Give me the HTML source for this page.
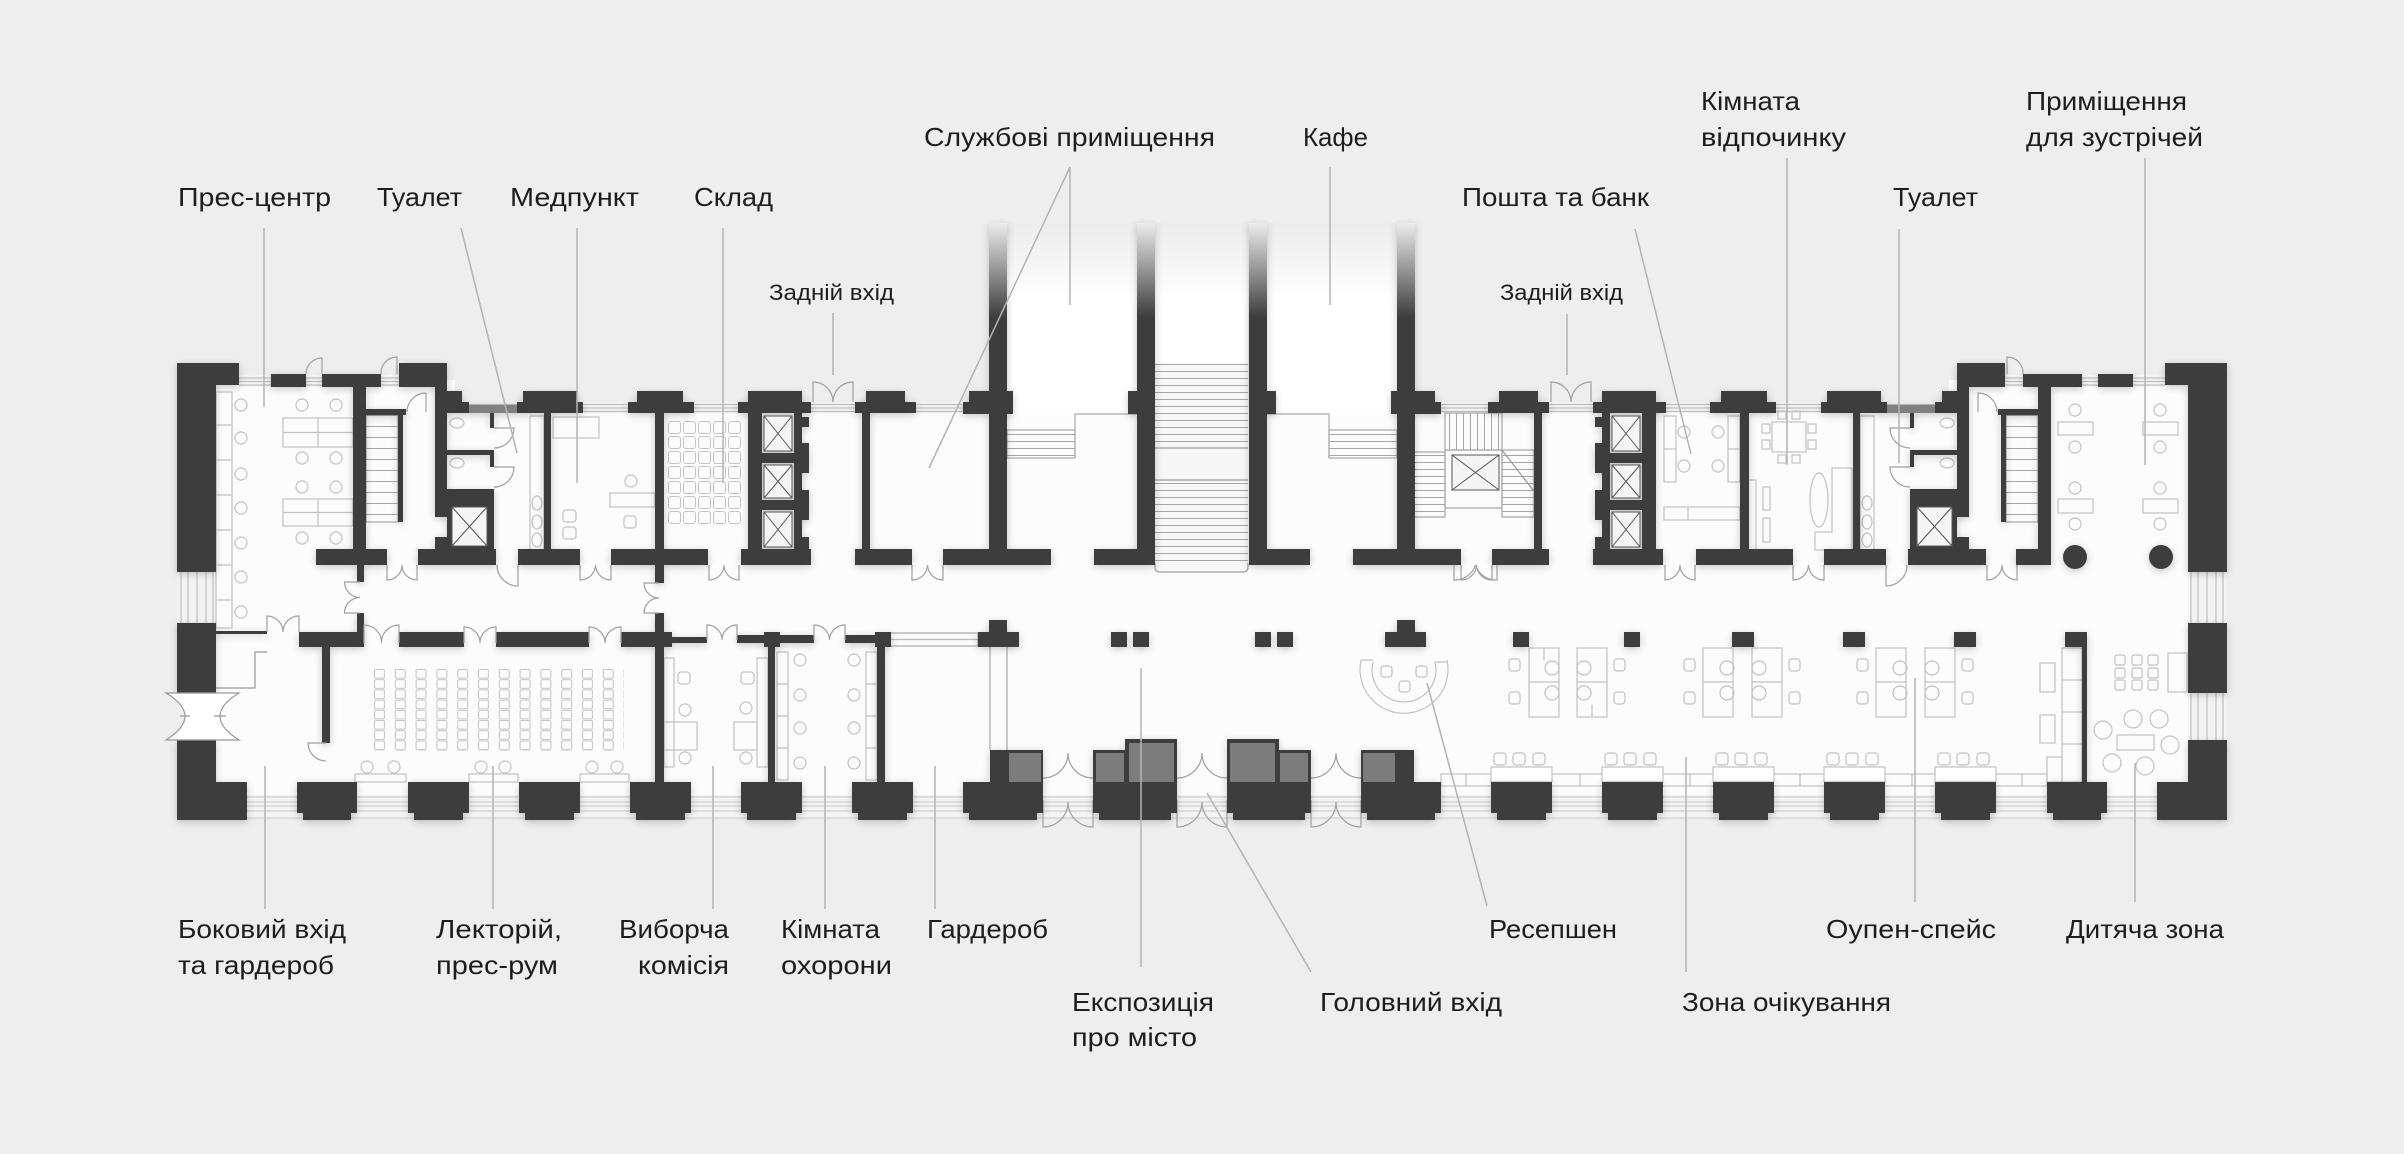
<!DOCTYPE html>
<html><head><meta charset="utf-8">
<style>
html,body{margin:0;padding:0;background:#eeeeee;width:2404px;height:1154px;overflow:hidden;}
svg{display:block;}
text{font-family:"Liberation Sans","DejaVu Sans",sans-serif;fill:#1d1d1d;}
</style></head><body>
<svg xmlns="http://www.w3.org/2000/svg" width="2404" height="1154" viewBox="0 0 2404 1154">
<defs>
<linearGradient id="gw" gradientUnits="userSpaceOnUse" x1="0" y1="223" x2="0" y2="318"><stop offset="0" stop-color="#ececec"/><stop offset="1" stop-color="#3c3c3c"/></linearGradient>
<linearGradient id="gf" gradientUnits="userSpaceOnUse" x1="0" y1="223" x2="0" y2="300"><stop offset="0" stop-color="#ececec"/><stop offset="1" stop-color="#ffffff"/></linearGradient>
<pattern id="trH" x="0" y="0" width="10" height="7" patternUnits="userSpaceOnUse"><line x1="0" y1="0.5" x2="10" y2="0.5" stroke="#a6a6a6" stroke-width="1"/></pattern>
<pattern id="trH11" x="0" y="415" width="10" height="11" patternUnits="userSpaceOnUse"><line x1="0" y1="0.5" x2="10" y2="0.5" stroke="#a6a6a6" stroke-width="1"/></pattern>
<pattern id="trV" x="0" y="0" width="7" height="10" patternUnits="userSpaceOnUse"><line x1="0.5" y1="0" x2="0.5" y2="10" stroke="#a6a6a6" stroke-width="1"/></pattern>
<pattern id="seats" x="374" y="669" width="20.8" height="10.2" patternUnits="userSpaceOnUse"><rect x="0.5" y="0.5" width="10" height="8.6" rx="1.5" fill="none" stroke="#c4c4c4" stroke-width="1"/></pattern>
<pattern id="grid" x="668" y="421" width="15" height="15" patternUnits="userSpaceOnUse"><rect x="0.5" y="0.5" width="12" height="12" rx="2.5" fill="none" stroke="#c4c4c4" stroke-width="1"/></pattern>
<filter id="sh" x="-5%" y="-5%" width="110%" height="110%">
<feGaussianBlur in="SourceAlpha" stdDeviation="4"/><feOffset dx="0" dy="2"/>
<feComponentTransfer><feFuncA type="linear" slope="0.22"/></feComponentTransfer>
<feMerge><feMergeNode/><feMergeNode in="SourceGraphic"/></feMerge></filter>

<!-- symmetric light elements (left half) -->
<g id="symL" fill="none" stroke="#c2c2c2" stroke-width="1.2">
<rect x="447" y="402" width="542" height="11" fill="#f3f3f3" stroke="none"/>
<path d="M447,404.5 H989 M447,408 H989 M447,411.5 H989" stroke="#c0c0c0"/>
<rect x="239" y="375" width="160" height="12" fill="#f3f3f3" stroke="none"/>
<path d="M239,378 H399 M239,381.5 H399 M239,385 H399" stroke="#c0c0c0"/>
<rect x="177" y="572" width="39" height="51" fill="#f3f3f3" stroke="none"/>
<path d="M181,572 V623 M188,572 V623 M197,572 V623 M206,572 V623 M213,572 V623" stroke="#c0c0c0"/>
<rect x="366" y="415" width="32" height="107" fill="url(#trH11)" stroke="#a6a6a6"/>
<rect x="530" y="416" width="14" height="134"/>
<ellipse cx="537" cy="503" rx="5" ry="7"/><ellipse cx="537" cy="522" rx="5" ry="7"/><ellipse cx="537" cy="540" rx="5" ry="7"/>
<ellipse cx="457" cy="423" rx="7" ry="5"/><ellipse cx="457" cy="463" rx="7" ry="5"/>
<rect x="1007" y="430" width="68" height="28" fill="url(#trH)" stroke="#aaaaaa"/>
<path d="M1075,458 V414 H1137" stroke="#aaaaaa"/>
<g stroke="#a0a0a0">
<path d="M813,402 V382 A20,20 0 0 1 833,402 M853,402 V382 A20,20 0 0 0 833,402"/>
<path d="M1043,778 A25,25 0 0 0 1068,753 A25,25 0 0 0 1093,778"/>
<path d="M1043,800 V827 A25,25 0 0 0 1068,802 A25,25 0 0 0 1093,827 V800"/>
<path d="M494,428 H514 A20,20 0 0 1 494,448 M494,467 H514 A20,20 0 0 1 494,487"/>
<path d="M397,374 V357 A16,16 0 0 0 381,374"/>
<path d="M426,412 V393 A19,19 0 0 0 407,412"/>
<path d="M387,565 V580 A15,15 0 0 0 402,565 M417,565 V580 A15,15 0 0 1 402,565"/>
<path d="M580,565 V580 A15.5,15.5 0 0 0 595.5,565 M611,565 V580 A15.5,15.5 0 0 1 595.5,565"/>
<path d="M709,565 V580 A15,15 0 0 0 724,565 M739,565 V580 A15,15 0 0 1 724,565"/>
<path d="M912,565 V580 A15.5,15.5 0 0 0 927.5,565 M943,565 V580 A15.5,15.5 0 0 1 927.5,565"/>
<path d="M518,565 V586 A21,21 0 0 1 497,565"/>
</g>
</g>

<!-- symmetric walls (left half) -->
<g id="symW" fill="#3c3c3c">
<rect x="177" y="363" width="62" height="22"/>
<rect x="177" y="363" width="39" height="209"/>
<rect x="271" y="374" width="35" height="13"/>
<rect x="322" y="374" width="59" height="13"/>
<rect x="399" y="363" width="48" height="24"/>
<rect x="435" y="363" width="12" height="154"/>
<rect x="435" y="537" width="12" height="16"/>
<rect x="353" y="374" width="13" height="191"/>
<rect x="366" y="409" width="40" height="6"/>
<rect x="398" y="409" width="5" height="113"/>
<rect x="447" y="391" width="15" height="22"/>
<rect x="462" y="402" width="7" height="11"/>
<rect x="469" y="405" width="48" height="8" fill="#808080"/>
<rect x="523" y="391" width="54" height="11"/>
<rect x="517" y="402" width="66" height="11"/>
<rect x="544" y="413" width="7" height="140"/>
<rect x="637" y="391" width="46" height="11"/>
<rect x="628" y="402" width="66" height="11"/>
<rect x="655" y="413" width="9" height="152"/>
<!-- toilets -->
<rect x="447" y="450" width="47" height="5"/>
<rect x="447" y="489" width="47" height="60"/>
<rect x="490" y="413" width="4" height="15"/>
<rect x="490" y="450" width="4" height="17"/>
<rect x="452" y="507" width="35" height="39" fill="#f5f5f5" stroke="#555" stroke-width="1"/>
<path d="M452,507 L487,546 M487,507 L452,546" stroke="#555" stroke-width="1"/>
<!-- elevator block -->
<rect x="748" y="391" width="54" height="11"/>
<rect x="738" y="402" width="73" height="11"/>
<rect x="748" y="413" width="14" height="140"/>
<rect x="741" y="549" width="70" height="16"/>
<rect x="762" y="453" width="40" height="10"/>
<rect x="762" y="500" width="40" height="10"/>
<rect x="794" y="413" width="8" height="136"/>
<rect x="802" y="417" width="7" height="10"/>
<rect x="802" y="443" width="7" height="30"/>
<rect x="802" y="490" width="7" height="30"/>
<rect x="802" y="537" width="7" height="12"/>
<g fill="#f5f5f5" stroke="#555" stroke-width="1">
<rect x="764" y="416" width="28" height="35"/><rect x="764" y="465" width="28" height="33"/><rect x="764" y="512" width="28" height="35"/>
<path d="M764,416 L792,451 M792,416 L764,451 M764,465 L792,498 M792,465 L764,498 M764,512 L792,547 M792,512 L764,547" fill="none"/>
</g>
<!-- room piers -->
<rect x="866" y="391" width="39" height="11"/>
<rect x="855" y="402" width="61" height="11"/>
<rect x="862" y="413" width="8" height="136"/>
<rect x="855" y="549" width="57" height="16"/>
<rect x="943" y="549" width="108" height="16"/>
<rect x="969" y="391" width="44" height="23"/>
<rect x="963" y="402" width="6" height="12"/>
<rect x="1128" y="391" width="9" height="23"/>
<rect x="1094" y="549" width="61" height="16"/>
<rect x="989" y="223" width="18" height="326" fill="url(#gw)"/>
<rect x="1137" y="223" width="18" height="342" fill="url(#gw)"/>
<!-- upper band bottom -->
<rect x="418" y="549" width="78" height="16"/>
<rect x="518" y="549" width="62" height="16"/>
<rect x="611" y="549" width="97" height="16"/>
<!-- lower band pillars -->
<rect x="317" y="632" width="22" height="15"/>
<rect x="428" y="632" width="22" height="15"/>
<rect x="539" y="632" width="22" height="15"/>
<rect x="650" y="632" width="22" height="15"/>
<rect x="764" y="632" width="16" height="15"/>
<rect x="875" y="632" width="16" height="15"/>
<rect x="978" y="632" width="41" height="15"/>
<rect x="989" y="620" width="18" height="12"/>
<rect x="1111" y="632" width="16" height="15"/>
<rect x="1133" y="632" width="16" height="15"/>
<!-- outer wall pieces -->
<rect x="177" y="623" width="39" height="70"/>
<rect x="177" y="740" width="39" height="43"/>
<rect x="177" y="782" width="70" height="38"/>
<!-- bottom piers -->
<rect x="297" y="782" width="60" height="31"/><rect x="303" y="813" width="48" height="7"/>
<rect x="408" y="782" width="61" height="31"/><rect x="414" y="813" width="49" height="7"/>
<rect x="519" y="782" width="61" height="31"/><rect x="525" y="813" width="49" height="7"/>
<rect x="630" y="782" width="61" height="31"/><rect x="636" y="813" width="49" height="7"/>
<rect x="741" y="782" width="61" height="31"/><rect x="747" y="813" width="49" height="7"/>
<rect x="852" y="782" width="61" height="31"/><rect x="858" y="813" width="49" height="7"/>
<rect x="963" y="782" width="80" height="31"/><rect x="969" y="813" width="68" height="7"/>
<rect x="990" y="750" width="53" height="32"/>
<rect x="1009" y="753" width="32" height="29" fill="#7b7b7b"/>
<rect x="1093" y="782" width="84" height="31"/><rect x="1099" y="813" width="72" height="7"/>
<rect x="1093" y="750" width="34" height="32"/>
<rect x="1125" y="739" width="52" height="43"/>
<rect x="1096" y="753" width="28" height="29" fill="#7b7b7b"/>
<rect x="1129" y="743" width="45" height="39" fill="#7b7b7b"/>
</g>
</defs>

<!-- background -->
<rect x="0" y="0" width="2404" height="1154" fill="#eeeeee"/>

<!-- floor -->
<rect x="216" y="380" width="239" height="420" fill="#fcfcfc"/>
<rect x="1949" y="380" width="239" height="420" fill="#fcfcfc"/>
<rect x="447" y="408" width="1510" height="392" fill="#fcfcfc"/>
<rect x="1007" y="223" width="130" height="191" fill="url(#gf)"/>
<rect x="1155" y="223" width="93" height="142" fill="url(#gf)"/>
<rect x="1267" y="223" width="130" height="191" fill="url(#gf)"/>

<!-- bottom window strip -->
<rect x="216" y="795" width="1972" height="24" fill="#f4f4f4"/>
<path d="M216,797 H2188 M216,802 H2188 M216,806 H2188 M216,811 H2188 M216,818 H2188" stroke="#c6c6c6" stroke-width="1" fill="none"/>

<!-- symmetric light stuff -->
<use href="#symL"/>
<use href="#symL" transform="matrix(-1 0 0 1 2404 0)"/>

<!-- central stair -->
<rect x="1155" y="363" width="93" height="207" fill="#f7f7f7"/>
<rect x="1155" y="363" width="93" height="85" fill="url(#trH)"/>
<rect x="1155" y="480" width="93" height="84" fill="url(#trH)"/>
<path d="M1155,448 H1248 M1155,480 H1248 M1155,563 V567 Q1155,572 1160,572 H1243 Q1248,572 1248,567 V563" stroke="#9a9a9a" fill="none" stroke-width="1.2"/>
<path d="M1177,778 A25,25 0 0 0 1202,753 A25,25 0 0 0 1227,778 M1177,800 V827 A25,25 0 0 0 1202,802 A25,25 0 0 0 1227,827 V800" stroke="#a0a0a0" fill="none" stroke-width="1.2"/>

<!-- left-only light furniture -->
<g fill="none" stroke="#c2c2c2" stroke-width="1.2">
<rect x="216" y="392" width="16" height="236"/>
<path d="M216,425 H232 M216,460 H232 M216,495 H232 M216,530 H232 M216,565 H232 M216,600 H232"/>
<circle cx="241" cy="405" r="6"/><circle cx="241" cy="438" r="6"/><circle cx="241" cy="474" r="6"/><circle cx="241" cy="508" r="6"/><circle cx="241" cy="543" r="6"/><circle cx="241" cy="577" r="6"/><circle cx="241" cy="612" r="6"/>
<rect x="283" y="418" width="70" height="29"/><path d="M318,418 V447 M283,432.5 H353"/>
<rect x="283" y="499" width="70" height="27"/><path d="M318,499 V526 M283,512.5 H353"/>
<circle cx="302" cy="405" r="6"/><circle cx="336" cy="405" r="6"/><circle cx="302" cy="458" r="6"/><circle cx="336" cy="458" r="6"/>
<circle cx="302" cy="487" r="6"/><circle cx="336" cy="487" r="6"/><circle cx="302" cy="538" r="6"/><circle cx="336" cy="538" r="6"/>
<rect x="553" y="417" width="46" height="21"/><rect x="610" y="493" width="45" height="14"/>
<rect x="563" y="510" width="13" height="12" rx="3"/><rect x="563" y="527" width="13" height="12" rx="3"/>
<circle cx="631" cy="481" r="6"/><rect x="624" y="516" width="12" height="12" rx="3"/>
<rect x="668" y="421" width="73" height="105" fill="url(#grid)" stroke="none"/>
<rect x="374" y="669" width="250" height="82" fill="url(#seats)" stroke="none"/>
<circle cx="367" cy="767" r="6"/><circle cx="394" cy="767" r="6"/><circle cx="481" cy="767" r="6"/><circle cx="505" cy="767" r="6"/><circle cx="592" cy="767" r="6"/><circle cx="617" cy="767" r="6"/>
<rect x="355" y="774" width="51" height="8"/><rect x="469" y="774" width="49" height="8"/><rect x="580" y="774" width="49" height="8"/>
<rect x="757" y="658" width="11" height="109"/><rect x="734" y="722" width="23" height="28"/>
<circle cx="746" cy="708" r="6"/><circle cx="746" cy="758" r="6"/><rect x="741" y="672" width="13" height="12" rx="3"/>
<rect x="664" y="658" width="10" height="109"/><rect x="664" y="722" width="33" height="28"/>
<circle cx="685" cy="710" r="6"/><circle cx="685" cy="758" r="6"/><rect x="678" y="672" width="12" height="12" rx="3"/>
<rect x="777" y="652" width="11" height="128"/><path d="M777,684 H788 M777,716 H788 M777,748 H788"/>
<circle cx="800" cy="660" r="6"/><circle cx="800" cy="695" r="6"/><circle cx="800" cy="728" r="6"/><circle cx="800" cy="763" r="6"/>
<rect x="866" y="652" width="11" height="128"/><path d="M866,684 H877 M866,716 H877 M866,748 H877"/>
<circle cx="854" cy="660" r="6"/><circle cx="854" cy="695" r="6"/><circle cx="854" cy="728" r="6"/><circle cx="854" cy="763" r="6"/>
<rect x="889" y="633" width="89" height="13" fill="#fafafa" stroke="#aaaaaa"/><path d="M889,639.5 H978" stroke="#bbbbbb"/>
<path d="M990,647 V750 M1007,647 V750" stroke="#a8a8a8"/>
<path d="M216,688 H255 V652 H267" stroke="#999999"/>
</g>

<!-- right-only light furniture -->
<g fill="none" stroke="#c2c2c2" stroke-width="1.2">
<!-- right stair room -->
<rect x="1445" y="413" width="57" height="37" fill="url(#trV)" stroke="#a6a6a6"/>
<rect x="1414" y="452" width="31" height="65" fill="url(#trH)" stroke="#a6a6a6"/>
<rect x="1502" y="450" width="32" height="67" fill="url(#trH)" stroke="#a6a6a6"/>
<rect x="1445" y="450" width="57" height="58" stroke="#a6a6a6"/>
<path d="M1502,450 L1533,490" stroke="#999"/>
<rect x="1452" y="455" width="47" height="35" fill="#f5f5f5" stroke="#555" stroke-width="1"/>
<path d="M1452,455 L1499,490 M1499,455 L1452,490" stroke="#555" stroke-width="1"/>
<!-- post & bank -->
<rect x="1664" y="416" width="12" height="66"/><path d="M1664,449 H1676"/>
<circle cx="1684" cy="432" r="6"/><circle cx="1684" cy="466" r="6"/>
<rect x="1728" y="416" width="12" height="66"/><path d="M1728,449 H1740"/>
<circle cx="1718" cy="432" r="6"/><circle cx="1718" cy="466" r="6"/>
<rect x="1664" y="507" width="76" height="13"/><path d="M1688,507 V520"/>
<!-- rest room -->
<rect x="1772" y="422" width="34" height="30"/>
<rect x="1762" y="424" width="8" height="9"/><rect x="1762" y="440" width="8" height="9"/><rect x="1808" y="424" width="8" height="9"/><rect x="1808" y="440" width="8" height="9"/>
<rect x="1778" y="411" width="8" height="8"/><rect x="1792" y="411" width="8" height="8"/><rect x="1778" y="455" width="8" height="8"/><rect x="1792" y="455" width="8" height="8"/>
<ellipse cx="1819" cy="500" rx="9" ry="27"/>
<path d="M1832,468 H1852 V550 H1815 V532 H1832 Z"/>
<rect x="1747" y="480" width="9" height="70"/>
<rect x="1763" y="487" width="7" height="23"/><rect x="1763" y="518" width="7" height="24"/>
<!-- meeting room -->
<rect x="2058" y="422" width="35" height="13"/><rect x="2143" y="422" width="35" height="13"/>
<rect x="2058" y="499" width="35" height="14"/><rect x="2143" y="499" width="35" height="14"/>
<circle cx="2075" cy="410" r="6"/><circle cx="2075" cy="447" r="6"/><circle cx="2075" cy="488" r="6"/><circle cx="2075" cy="524" r="6"/>
<circle cx="2160" cy="410" r="6"/><circle cx="2160" cy="447" r="6"/><circle cx="2160" cy="488" r="6"/><circle cx="2160" cy="524" r="6"/>
<!-- right side window -->
<rect x="2188" y="690" width="39" height="52" fill="#f3f3f3" stroke="none"/>
<path d="M2191,690 V742 M2198,690 V742 M2207,690 V742 M2216,690 V742 M2223,690 V742" stroke="#c0c0c0"/>
<!-- reception -->
<path d="M1361,660 A44,44 0 1 0 1447,660 M1373,662 A32,32 0 1 0 1435,662 M1361,660 H1373 M1435,662 H1447"/>
<rect x="1381" y="666" width="11" height="11" rx="3"/><rect x="1416" y="666" width="11" height="11" rx="3"/><rect x="1399" y="681" width="11" height="11" rx="3"/>
<!-- open space clusters -->
<rect x="1529" y="648" width="30" height="69"/><rect x="1577" y="648" width="30" height="69"/>
<path d="M1529,682 H1559 M1577,682 H1607 M1544,648 V660 M1592,705 V717"/>
<circle cx="1552" cy="668" r="7"/><circle cx="1552" cy="693" r="7"/><circle cx="1584" cy="668" r="7"/><circle cx="1584" cy="693" r="7"/>
<rect x="1509" y="659" width="11" height="12" rx="3"/><rect x="1509" y="692" width="11" height="12" rx="3"/><rect x="1614" y="659" width="11" height="12" rx="3"/><rect x="1614" y="692" width="11" height="12" rx="3"/>
<rect x="1703" y="648" width="30" height="69"/><rect x="1752" y="648" width="30" height="69"/>
<path d="M1703,682 H1733 M1752,682 H1782"/>
<circle cx="1727" cy="668" r="7"/><circle cx="1727" cy="693" r="7"/><circle cx="1759" cy="668" r="7"/><circle cx="1759" cy="693" r="7"/>
<rect x="1684" y="659" width="11" height="12" rx="3"/><rect x="1684" y="692" width="11" height="12" rx="3"/><rect x="1789" y="659" width="11" height="12" rx="3"/><rect x="1789" y="692" width="11" height="12" rx="3"/>
<rect x="1876" y="648" width="30" height="69"/><rect x="1925" y="648" width="30" height="69"/>
<path d="M1876,682 H1906 M1925,682 H1955"/>
<circle cx="1900" cy="668" r="7"/><circle cx="1900" cy="693" r="7"/><circle cx="1932" cy="668" r="7"/><circle cx="1932" cy="693" r="7"/>
<rect x="1857" y="659" width="11" height="12" rx="3"/><rect x="1857" y="692" width="11" height="12" rx="3"/><rect x="1962" y="659" width="11" height="12" rx="3"/><rect x="1962" y="692" width="11" height="12" rx="3"/>
<!-- waiting sofas / tables -->
<rect x="1441" y="774" width="606" height="12"/>
<path d="M1466,774 V786 M1580,774 V786 M1690,774 V786 M1800,774 V786 M1912,774 V786 M2022,774 V786"/>
<g fill="#ffffff">
<rect x="1491" y="767" width="61" height="15"/><rect x="1602" y="767" width="61" height="15"/><rect x="1713" y="767" width="61" height="15"/><rect x="1824" y="767" width="61" height="15"/><rect x="1935" y="767" width="61" height="15"/>
</g>
<g>
<rect x="1494" y="753" width="12" height="12" rx="3"/><rect x="1513" y="753" width="12" height="12" rx="3"/><rect x="1533" y="753" width="12" height="12" rx="3"/>
<rect x="1605" y="753" width="12" height="12" rx="3"/><rect x="1624" y="753" width="12" height="12" rx="3"/><rect x="1644" y="753" width="12" height="12" rx="3"/>
<rect x="1716" y="753" width="12" height="12" rx="3"/><rect x="1735" y="753" width="12" height="12" rx="3"/><rect x="1755" y="753" width="12" height="12" rx="3"/>
<rect x="1827" y="753" width="12" height="12" rx="3"/><rect x="1846" y="753" width="12" height="12" rx="3"/><rect x="1866" y="753" width="12" height="12" rx="3"/>
<rect x="1938" y="753" width="12" height="12" rx="3"/><rect x="1957" y="753" width="12" height="12" rx="3"/><rect x="1977" y="753" width="12" height="12" rx="3"/>
</g>
<!-- kid zone -->
<rect x="2062" y="648" width="20" height="134"/><path d="M2062,680 H2082 M2062,712 H2082 M2062,744 H2082"/>
<rect x="2040" y="663" width="15" height="29"/><rect x="2040" y="715" width="15" height="28"/>
<rect x="2047" y="757" width="15" height="25"/>
<rect x="2115" y="655" width="10" height="10" rx="2"/><rect x="2132" y="655" width="10" height="10" rx="2"/><rect x="2148" y="655" width="10" height="10" rx="2"/>
<rect x="2115" y="668" width="10" height="10" rx="2"/><rect x="2132" y="668" width="10" height="10" rx="2"/><rect x="2148" y="668" width="10" height="10" rx="2"/>
<rect x="2115" y="680" width="10" height="10" rx="2"/><rect x="2132" y="680" width="10" height="10" rx="2"/><rect x="2148" y="680" width="10" height="10" rx="2"/>
<rect x="2168" y="653" width="19" height="39"/>
<circle cx="2133" cy="719" r="9"/><circle cx="2159" cy="719" r="9"/><circle cx="2103" cy="730" r="9"/><circle cx="2170" cy="745" r="9"/><circle cx="2112" cy="763" r="9"/><circle cx="2145" cy="766" r="9"/>
<rect x="2117" y="735" width="37" height="15"/>
</g>

<!-- walls -->
<g filter="url(#sh)">
<use href="#symW"/>
<use href="#symW" transform="matrix(-1 0 0 1 2404 0)"/>
<g fill="#3c3c3c">
<!-- left-only -->
<rect x="316" y="549" width="71" height="16"/>
<rect x="357" y="565" width="7" height="17"/><rect x="357" y="613" width="7" height="20"/>
<rect x="655" y="565" width="9" height="18"/><rect x="655" y="613" width="9" height="169"/>
<rect x="216" y="631" width="51" height="3"/>
<rect x="299" y="632" width="65" height="15"/>
<rect x="399" y="632" width="65" height="15"/>
<rect x="496" y="632" width="93" height="15"/>
<rect x="621" y="632" width="50" height="15"/>
<rect x="671" y="637" width="36" height="6"/>
<rect x="737" y="635" width="77" height="8"/>
<rect x="845" y="635" width="44" height="8"/>
<rect x="322" y="647" width="8" height="96"/>
<rect x="768" y="647" width="7" height="135"/>
<rect x="877" y="647" width="8" height="135"/>
<!-- right-only -->
<rect x="2016" y="549" width="34" height="16"/>
<circle cx="2075" cy="557" r="12"/>
<circle cx="2161" cy="557" r="12"/>
<rect x="2082" y="647" width="5" height="135"/>
</g>
</g>

<!-- left-only doors -->
<g fill="none" stroke="#a0a0a0" stroke-width="1.2">
<path d="M322,374 V358 A16,16 0 0 0 306,374"/>
<path d="M267,632 V616 A16,16 0 0 1 283,632 M299,632 V616 A16,16 0 0 0 283,632"/>
<path d="M364,643 V625 A17.5,17.5 0 0 1 381.5,643 M399,643 V625 A17.5,17.5 0 0 0 381.5,643"/>
<path d="M464,643 V627 A16,16 0 0 1 480,643 M496,643 V627 A16,16 0 0 0 480,643"/>
<path d="M589,643 V627 A16,16 0 0 1 605,643 M621,643 V627 A16,16 0 0 0 605,643"/>
<path d="M707,640 V625 A15,15 0 0 1 722,640 M737,640 V625 A15,15 0 0 0 722,640"/>
<path d="M814,640 V625 A15.5,15.5 0 0 1 829.5,640 M845,640 V625 A15.5,15.5 0 0 0 829.5,640"/>
<path d="M360,582 H344.5 A15.5,15.5 0 0 0 360,597.5 M360,613 H344.5 A15.5,15.5 0 0 1 360,597.5"/>
<path d="M659,583 H644 A15,15 0 0 0 659,598 M659,613 H644 A15,15 0 0 1 659,598"/>
<path d="M326,743 H308 A18,18 0 0 0 326,761"/>
<path d="M1454,565 V580 A21.5,21.5 0 0 0 1475.5,565 M1497,565 V580 A21.5,21.5 0 0 1 1475.5,565"/>
<path d="M166,693 H239 Q201,716 239,740 H166 Q204,716 166,693 Z" fill="#ffffff" stroke="#999999"/>
<path d="M180,716 H190 M214,716 H226" stroke="#999999"/>
</g>

<!-- leader lines -->
<g stroke="#b3b3b3" stroke-width="1.5" fill="none">
<path d="M264,228 V407"/>
<path d="M461,228 L517,453"/>
<path d="M577,228 V483"/>
<path d="M723,228 V483"/>
<path d="M833,313 V375"/>
<path d="M1070,167 V305 M1070,167 L929,468"/>
<path d="M1330,167 V305"/>
<path d="M1567,314 V375"/>
<path d="M1635,229 L1691,454"/>
<path d="M1787,158 V465"/>
<path d="M1899,229 V463"/>
<path d="M2145,158 V465"/>
<path d="M265,766 V909"/>
<path d="M493,766 V909"/>
<path d="M713,766 V909"/>
<path d="M825,766 V909"/>
<path d="M935,766 V909"/>
<path d="M1141,668 V967"/>
<path d="M1207,793 L1311,972"/>
<path d="M1427,683 L1487,906"/>
<path d="M1686,757 V972"/>
<path d="M1915,678 V902"/>
<path d="M2135,763 V902"/>
</g>

<!-- labels -->
<g font-size="26">
<text x="924" y="146" textLength="291" lengthAdjust="spacingAndGlyphs">Службові приміщення</text>
<text x="1303" y="146" textLength="65" lengthAdjust="spacingAndGlyphs">Кафе</text>
<text x="1701" y="110" textLength="99" lengthAdjust="spacingAndGlyphs">Кімната</text>
<text x="1701" y="146" textLength="145" lengthAdjust="spacingAndGlyphs">відпочинку</text>
<text x="2026" y="110" textLength="161" lengthAdjust="spacingAndGlyphs">Приміщення</text>
<text x="2026" y="146" textLength="177" lengthAdjust="spacingAndGlyphs">для зустрічей</text>
<text x="178" y="206" textLength="153" lengthAdjust="spacingAndGlyphs">Прес-центр</text>
<text x="377" y="206" textLength="85" lengthAdjust="spacingAndGlyphs">Туалет</text>
<text x="510" y="206" textLength="129" lengthAdjust="spacingAndGlyphs">Медпункт</text>
<text x="694" y="206" textLength="79" lengthAdjust="spacingAndGlyphs">Склад</text>
<text x="1462" y="206" textLength="187" lengthAdjust="spacingAndGlyphs">Пошта та банк</text>
<text x="1893" y="206" textLength="85" lengthAdjust="spacingAndGlyphs">Туалет</text>
<text x="178" y="938" textLength="168" lengthAdjust="spacingAndGlyphs">Боковий вхід</text>
<text x="178" y="974" textLength="156" lengthAdjust="spacingAndGlyphs">та гардероб</text>
<text x="436" y="938" textLength="126" lengthAdjust="spacingAndGlyphs">Лекторій,</text>
<text x="436" y="974" textLength="122" lengthAdjust="spacingAndGlyphs">прес-рум</text>
<text x="619" y="938" textLength="110" lengthAdjust="spacingAndGlyphs">Виборча</text>
<text x="638" y="974" textLength="91" lengthAdjust="spacingAndGlyphs">комісія</text>
<text x="781" y="938" textLength="99" lengthAdjust="spacingAndGlyphs">Кімната</text>
<text x="781" y="974" textLength="111" lengthAdjust="spacingAndGlyphs">охорони</text>
<text x="927" y="938" textLength="121" lengthAdjust="spacingAndGlyphs">Гардероб</text>
<text x="1072" y="1011" textLength="142" lengthAdjust="spacingAndGlyphs">Експозиція</text>
<text x="1072" y="1046" textLength="125" lengthAdjust="spacingAndGlyphs">про місто</text>
<text x="1320" y="1011" textLength="182" lengthAdjust="spacingAndGlyphs">Головний вхід</text>
<text x="1489" y="938" textLength="128" lengthAdjust="spacingAndGlyphs">Ресепшен</text>
<text x="1682" y="1011" textLength="209" lengthAdjust="spacingAndGlyphs">Зона очікування</text>
<text x="1826" y="938" textLength="170" lengthAdjust="spacingAndGlyphs">Оупен-спейс</text>
<text x="2066" y="938" textLength="158" lengthAdjust="spacingAndGlyphs">Дитяча зона</text>
</g>
<g font-size="22">
<text x="769" y="300" textLength="125" lengthAdjust="spacingAndGlyphs">Задній вхід</text>
<text x="1500" y="300" textLength="123" lengthAdjust="spacingAndGlyphs">Задній вхід</text>
</g>
</svg>
</body></html>
